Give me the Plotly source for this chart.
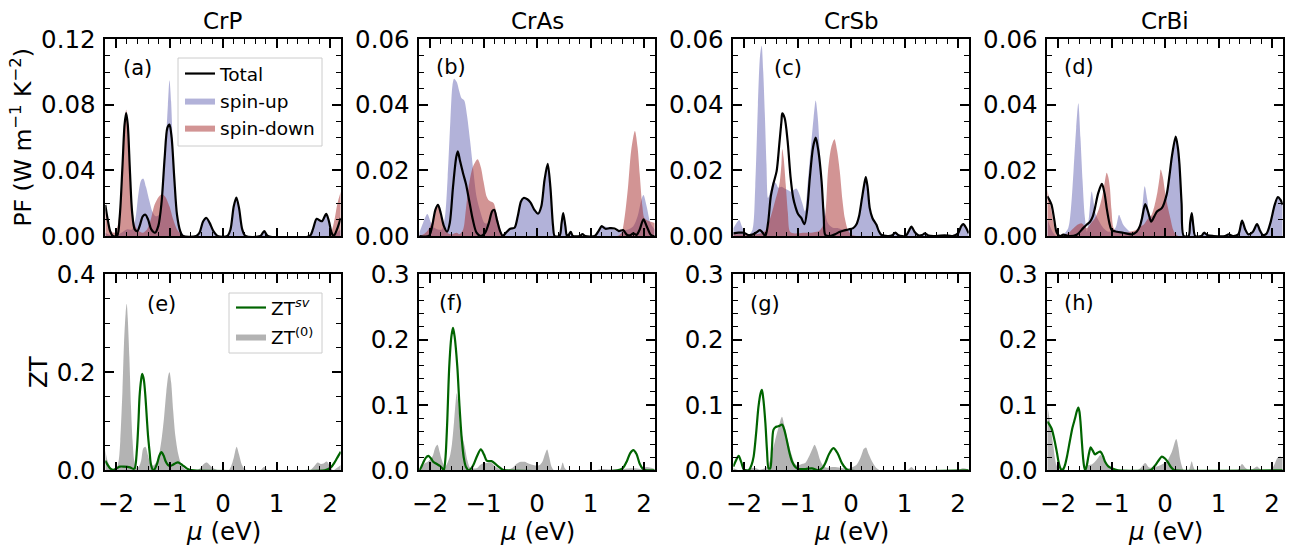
import plotly.graph_objects as go

W, H = 1305, 546

# ---------------- data: (mu [eV], value) ----------------
# Top row: power factor PF (W m^-1 K^-2)
crp_total = [(-2.2, 0.019), (-2.16, 0.011), (-2.11, 0.003), (-2.06, 0.0), (-1.98, 0.0), (-1.93, 0.012),
             (-1.88, 0.042), (-1.84, 0.068), (-1.81, 0.075), (-1.78, 0.068), (-1.74, 0.04), (-1.70, 0.015),
             (-1.65, 0.004), (-1.60, 0.003), (-1.55, 0.007), (-1.50, 0.012), (-1.45, 0.013), (-1.40, 0.010),
             (-1.34, 0.004), (-1.27, 0.002), (-1.21, 0.006), (-1.15, 0.02), (-1.09, 0.048), (-1.04, 0.066),
             (-1.00, 0.068), (-0.96, 0.06), (-0.91, 0.035), (-0.86, 0.013), (-0.80, 0.003), (-0.75, 0.0),
             (-0.50, 0.0), (-0.44, 0.002), (-0.37, 0.009), (-0.31, 0.011), (-0.25, 0.008), (-0.18, 0.003),
             (-0.10, 0.0), (0.08, 0.0), (0.14, 0.004), (0.20, 0.018), (0.25, 0.0235), (0.30, 0.017),
             (0.36, 0.004), (0.42, 0.0), (0.70, 0.0), (0.77, 0.003), (0.84, 0.0), (1.62, 0.0), (1.68, 0.004),
             (1.75, 0.0105), (1.81, 0.0095), (1.85, 0.009), (1.93, 0.0135), (1.98, 0.009), (2.03, 0.002),
             (2.07, 0.0), (2.13, 0.004), (2.2, 0.011)]
crp_up = [(-2.2, 0.002), (-2.05, 0.0), (-1.9, 0.002), (-1.8, 0.004), (-1.7, 0.004), (-1.64, 0.01),
          (-1.58, 0.026), (-1.53, 0.034), (-1.49, 0.035), (-1.44, 0.03), (-1.38, 0.022), (-1.32, 0.015),
          (-1.26, 0.012), (-1.2, 0.013), (-1.14, 0.025), (-1.08, 0.05), (-1.03, 0.08), (-1.0, 0.095),
          (-0.97, 0.082), (-0.93, 0.05), (-0.88, 0.022), (-0.83, 0.008), (-0.77, 0.002), (-0.7, 0.0),
          (-0.50, 0.0), (-0.44, 0.002), (-0.37, 0.009), (-0.31, 0.011), (-0.25, 0.008), (-0.18, 0.003),
          (-0.10, 0.0), (0.08, 0.0), (0.14, 0.004), (0.20, 0.018), (0.25, 0.0235), (0.30, 0.017),
          (0.36, 0.004), (0.42, 0.0), (0.70, 0.0), (0.77, 0.003), (0.84, 0.0), (1.62, 0.0), (1.68, 0.004),
          (1.75, 0.0105), (1.81, 0.0095), (1.85, 0.009), (1.93, 0.0135), (1.98, 0.009), (2.03, 0.002),
          (2.07, 0.0), (2.13, 0.002), (2.2, 0.004)]
crp_down = [(-2.2, 0.016), (-2.15, 0.008), (-2.1, 0.003), (-2.03, 0.002), (-1.97, 0.006), (-1.92, 0.02),
            (-1.87, 0.05), (-1.83, 0.072), (-1.81, 0.077), (-1.78, 0.07), (-1.74, 0.045), (-1.70, 0.02),
            (-1.65, 0.007), (-1.58, 0.003), (-1.5, 0.002), (-1.42, 0.004), (-1.35, 0.01), (-1.28, 0.019),
            (-1.2, 0.024), (-1.14, 0.0255), (-1.08, 0.024), (-1.0, 0.018), (-0.93, 0.01), (-0.86, 0.004),
            (-0.78, 0.001), (-0.7, 0.0), (1.98, 0.0), (2.04, 0.004), (2.09, 0.011), (2.14, 0.02), (2.2, 0.027)]

cras_total = [(-2.2, 0.0), (-2.02, 0.0), (-1.96, 0.003), (-1.9, 0.008), (-1.85, 0.0095), (-1.80, 0.007),
              (-1.74, 0.003), (-1.68, 0.0013), (-1.63, 0.004), (-1.57, 0.015), (-1.51, 0.024), (-1.48, 0.0258),
              (-1.44, 0.023), (-1.38, 0.019), (-1.33, 0.016), (-1.27, 0.011), (-1.2, 0.005), (-1.13, 0.001),
              (-1.05, 0.0), (-0.97, 0.001), (-0.9, 0.004), (-0.84, 0.0075), (-0.8, 0.008), (-0.75, 0.005),
              (-0.69, 0.0015), (-0.64, 0.0), (-0.58, 0.001), (-0.5, 0.0022), (-0.42, 0.0025), (-0.36, 0.006),
              (-0.3, 0.0105), (-0.25, 0.0116), (-0.18, 0.0112), (-0.12, 0.0102), (-0.05, 0.008), (0.02, 0.0068),
              (0.08, 0.009), (0.14, 0.017), (0.2, 0.022), (0.25, 0.015), (0.3, 0.003), (0.33, 0.0), (0.42, 0.0),
              (0.46, 0.004), (0.49, 0.007), (0.53, 0.003), (0.56, 0.0), (0.6, 0.0005), (0.63, 0.0013),
              (0.67, 0.0), (0.8, 0.0), (0.85, 0.0006), (0.9, 0.0), (1.08, 0.0), (1.15, 0.0015), (1.21, 0.003),
              (1.28, 0.0022), (1.36, 0.0024), (1.45, 0.0023), (1.53, 0.0015), (1.61, 0.0018), (1.68, 0.0004),
              (1.74, 0.0002), (1.8, 0.0008), (1.86, 0.0003), (1.92, 0.002), (1.99, 0.0051), (2.05, 0.003),
              (2.12, 0.0005), (2.17, 0.0), (2.2, 0.0)]
cras_up = [(-2.2, 0.001), (-2.13, 0.004), (-2.05, 0.0067), (-1.98, 0.004), (-1.92, 0.0025), (-1.85, 0.002),
           (-1.78, 0.002), (-1.72, 0.006), (-1.67, 0.018), (-1.62, 0.035), (-1.58, 0.046), (-1.55, 0.048),
           (-1.5, 0.047), (-1.45, 0.044), (-1.41, 0.042), (-1.36, 0.0413), (-1.31, 0.037), (-1.25, 0.029),
           (-1.19, 0.02), (-1.13, 0.012), (-1.06, 0.0075), (-0.98, 0.004), (-0.9, 0.004), (-0.84, 0.0075),
           (-0.8, 0.008), (-0.75, 0.005), (-0.69, 0.0015), (-0.64, 0.0005), (-0.58, 0.001), (-0.5, 0.0022),
           (-0.42, 0.0025), (-0.36, 0.006), (-0.3, 0.0105), (-0.25, 0.0116), (-0.18, 0.0112), (-0.12, 0.0102),
           (-0.05, 0.008), (0.02, 0.0068), (0.08, 0.009), (0.14, 0.017), (0.2, 0.022), (0.25, 0.015),
           (0.3, 0.003), (0.33, 0.0), (0.42, 0.0), (0.46, 0.004), (0.49, 0.007), (0.53, 0.003), (0.56, 0.0),
           (0.63, 0.0013), (0.67, 0.0), (1.08, 0.0), (1.15, 0.0015), (1.21, 0.003), (1.36, 0.0024),
           (1.53, 0.0015), (1.61, 0.0018), (1.7, 0.002), (1.8, 0.003), (1.88, 0.006), (1.95, 0.011),
           (1.99, 0.0125), (2.05, 0.009), (2.12, 0.004), (2.2, 0.002)]
cras_down = [(-2.2, 0.0), (-2.12, 0.0005), (-2.05, 0.0015), (-1.97, 0.004), (-1.9, 0.008), (-1.85, 0.009),
             (-1.8, 0.007), (-1.74, 0.003), (-1.68, 0.001), (-1.6, 0.0005), (-1.5, 0.001), (-1.45, 0.0005),
             (-1.38, 0.002), (-1.33, 0.008), (-1.28, 0.0147), (-1.2, 0.021), (-1.11, 0.0234), (-1.05, 0.021),
             (-1.0, 0.0167), (-0.94, 0.012), (-0.895, 0.0108), (-0.81, 0.01), (-0.76, 0.007), (-0.72, 0.0044),
             (-0.66, 0.001), (-0.6, 0.0), (1.5, 0.0), (1.58, 0.001), (1.64, 0.006), (1.7, 0.0147), (1.76, 0.026),
             (1.83, 0.032), (1.88, 0.027), (1.92, 0.0188), (1.97, 0.009), (2.01, 0.0054), (2.11, 0.0044),
             (2.2, 0.004)]

crsb_total = [(-2.2, 0.0008), (-2.1, 0.001), (-2.0, 0.001), (-1.92, 0.0003), (-1.83, 0.0005), (-1.76, 0.0012),
              (-1.70, 0.0018), (-1.65, 0.001), (-1.6, 0.0), (-1.55, 0.004), (-1.5, 0.012), (-1.45, 0.016),
              (-1.39, 0.0198), (-1.34, 0.028), (-1.3, 0.035), (-1.285, 0.0374), (-1.24, 0.036), (-1.185, 0.029),
              (-1.13, 0.018), (-1.08, 0.0116), (-1.04, 0.009), (-0.99, 0.0067), (-0.93, 0.0055), (-0.87, 0.0036),
              (-0.82, 0.008), (-0.77, 0.0177), (-0.71, 0.027), (-0.66, 0.030), (-0.61, 0.026), (-0.55, 0.0167),
              (-0.51, 0.006), (-0.48, 0.0003), (-0.4, 0.0), (-0.3, 0.0005), (-0.22, 0.0012), (-0.146, 0.0016),
              (-0.05, 0.002), (0.04, 0.0024), (0.1, 0.0035), (0.15, 0.006), (0.2, 0.011), (0.25, 0.016),
              (0.277, 0.018), (0.31, 0.015), (0.35, 0.0085), (0.4, 0.0055), (0.476, 0.0034), (0.52, 0.0015),
              (0.57, 0.0003), (0.7, 0.0), (0.77, 0.0002), (0.83, 0.001), (0.89, 0.0002), (1.02, 0.0),
              (1.08, 0.0015), (1.13, 0.0029), (1.19, 0.0012), (1.26, 0.0002), (1.33, 0.0003), (1.38, 0.0008),
              (1.45, 0.0001), (1.6, 0.0), (1.75, 0.0002), (1.9, 0.0), (2.0, 0.0008), (2.06, 0.003), (2.1, 0.0036),
              (2.15, 0.0025), (2.2, 0.0008)]
crsb_up = [(-2.2, 0.0024), (-2.14, 0.004), (-2.09, 0.0049), (-2.04, 0.003), (-1.98, 0.0008), (-1.9, 0.0005),
           (-1.84, 0.002), (-1.79, 0.015), (-1.74, 0.04), (-1.7, 0.055), (-1.67, 0.058), (-1.64, 0.05),
           (-1.61, 0.037), (-1.58, 0.022), (-1.55, 0.0116), (-1.5, 0.014), (-1.45, 0.0167), (-1.4, 0.016),
           (-1.36, 0.0147), (-1.3, 0.015), (-1.24, 0.0145), (-1.18, 0.014), (-1.12, 0.0135), (-1.06, 0.0142),
           (-1.02, 0.0145), (-0.97, 0.013), (-0.91, 0.01), (-0.86, 0.0075), (-0.81, 0.016), (-0.75, 0.027),
           (-0.7, 0.036), (-0.66, 0.0413), (-0.62, 0.036), (-0.58, 0.025), (-0.54, 0.015), (-0.5, 0.0085),
           (-0.43, 0.0039), (-0.34, 0.0025), (-0.24, 0.0024), (-0.146, 0.002), (-0.05, 0.002), (0.04, 0.0024),
           (0.1, 0.0035), (0.15, 0.006), (0.2, 0.011), (0.25, 0.016), (0.277, 0.018), (0.31, 0.015),
           (0.35, 0.0085), (0.4, 0.0055), (0.476, 0.0034), (0.52, 0.0015), (0.57, 0.0003), (0.7, 0.0),
           (0.77, 0.0002), (0.83, 0.001), (0.89, 0.0002), (1.02, 0.0), (1.08, 0.0015), (1.13, 0.0029),
           (1.19, 0.0012), (1.26, 0.0002), (1.33, 0.0003), (1.38, 0.0008), (1.45, 0.0001), (1.6, 0.0),
           (2.0, 0.0008), (2.06, 0.003), (2.1, 0.0036), (2.15, 0.0025), (2.2, 0.0008)]
crsb_down = [(-2.2, 0.0005), (-2.0, 0.0005), (-1.8, 0.0005), (-1.65, 0.001), (-1.58, 0.002), (-1.55, 0.0034),
             (-1.48, 0.007), (-1.42, 0.0106), (-1.36, 0.014), (-1.33, 0.0167), (-1.3, 0.022), (-1.285, 0.0265),
             (-1.26, 0.024), (-1.22, 0.0157), (-1.18, 0.007), (-1.14, 0.0013), (-1.05, 0.0008), (-0.9, 0.001),
             (-0.75, 0.001), (-0.6, 0.0015), (-0.53, 0.003), (-0.49, 0.0054), (-0.46, 0.011), (-0.43, 0.0198),
             (-0.37, 0.027), (-0.31, 0.0295), (-0.26, 0.026), (-0.21, 0.0198), (-0.16, 0.011), (-0.115, 0.0054),
             (-0.05, 0.0015), (0.01, 0.0004), (0.1, 0.0), (2.2, 0.0)]

crbi_total = [(-2.2, 0.0121), (-2.16, 0.011), (-2.12, 0.0095), (-2.07, 0.005), (-2.03, 0.0013), (-1.97, 0.0),
              (-1.9, 0.0004), (-1.8, 0.0), (-1.65, 0.0004), (-1.53, 0.0024), (-1.46, 0.0035), (-1.40, 0.0044),
              (-1.35, 0.006), (-1.31, 0.0085), (-1.25, 0.013), (-1.18, 0.0159), (-1.13, 0.013), (-1.09, 0.0085),
              (-1.04, 0.004), (-0.996, 0.0018), (-0.9, 0.0013), (-0.78, 0.001), (-0.62, 0.0005), (-0.53, 0.0013),
              (-0.47, 0.003), (-0.43, 0.0054), (-0.37, 0.0097), (-0.31, 0.007), (-0.26, 0.0044), (-0.2, 0.006),
              (-0.15, 0.0075), (-0.06, 0.0085), (0.03, 0.0126), (0.08, 0.018), (0.13, 0.0244), (0.2, 0.0303),
              (0.24, 0.027), (0.27, 0.0219), (0.31, 0.01), (0.35, 0.0), (0.44, 0.0), (0.47, 0.004), (0.5, 0.007),
              (0.53, 0.003), (0.565, 0.0), (0.68, 0.0), (0.73, 0.001), (0.8, 0.0002), (0.91, 0.0), (1.12, 0.0),
              (1.19, 0.0005), (1.27, 0.0), (1.37, 0.0005), (1.44, 0.0047), (1.5, 0.002), (1.56, 0.0005),
              (1.64, 0.0012), (1.72, 0.0036), (1.78, 0.0015), (1.83, 0.0003), (1.9, 0.0008), (1.97, 0.004),
              (2.05, 0.0095), (2.11, 0.0119), (2.16, 0.011), (2.2, 0.0095)]
crbi_up = [(-2.2, 0.0054), (-2.15, 0.003), (-2.09, 0.001), (-2.03, 0.0), (-1.9, 0.0005), (-1.81, 0.0024),
           (-1.76, 0.008), (-1.71, 0.0198), (-1.66, 0.033), (-1.62, 0.0405), (-1.58, 0.03), (-1.54, 0.0167),
           (-1.5, 0.006), (-1.46, 0.0013), (-1.42, 0.006), (-1.37, 0.0136), (-1.34, 0.011), (-1.31, 0.0075),
           (-1.25, 0.005), (-1.15, 0.0024), (-1.05, 0.0013), (-0.93, 0.0024), (-0.86, 0.0065), (-0.82, 0.005),
           (-0.78, 0.0034), (-0.65, 0.0013), (-0.53, 0.0013), (-0.45, 0.005), (-0.38, 0.0152), (-0.33, 0.011),
           (-0.28, 0.006), (-0.2, 0.006), (-0.15, 0.0075), (-0.06, 0.0085), (0.03, 0.0136), (0.08, 0.018),
           (0.13, 0.0244), (0.2, 0.0303), (0.24, 0.027), (0.27, 0.0219), (0.31, 0.01), (0.35, 0.0), (0.44, 0.0),
           (0.47, 0.004), (0.5, 0.007), (0.53, 0.003), (0.565, 0.0), (0.68, 0.0), (0.73, 0.001), (0.8, 0.0002),
           (0.91, 0.0), (1.12, 0.0), (1.19, 0.0005), (1.27, 0.0), (1.37, 0.0005), (1.44, 0.0047), (1.5, 0.002),
           (1.56, 0.0005), (1.64, 0.0012), (1.72, 0.0036), (1.78, 0.0015), (1.83, 0.0003), (1.9, 0.0008),
           (1.97, 0.004), (2.05, 0.0095), (2.11, 0.0119), (2.16, 0.011), (2.2, 0.0095)]
crbi_down = [(-2.2, 0.0142), (-2.16, 0.011), (-2.12, 0.0075), (-2.07, 0.003), (-2.03, 0.0008), (-1.9, 0.0003),
             (-1.8, 0.001), (-1.71, 0.0024), (-1.63, 0.0035), (-1.56, 0.0039), (-1.5, 0.003), (-1.46, 0.0024),
             (-1.38, 0.004), (-1.31, 0.0054), (-1.24, 0.008), (-1.18, 0.0116), (-1.13, 0.016), (-1.09, 0.0193),
             (-1.06, 0.018), (-1.03, 0.0147), (-1.0, 0.008), (-0.96, 0.0024), (-0.88, 0.001), (-0.78, 0.0008),
             (-0.6, 0.0015), (-0.53, 0.002), (-0.45, 0.003), (-0.4, 0.0034), (-0.33, 0.005), (-0.25, 0.0065),
             (-0.2, 0.009), (-0.14, 0.0136), (-0.1, 0.018), (-0.08, 0.0203), (-0.04, 0.018), (0.0, 0.0136),
             (0.05, 0.009), (0.1, 0.0054), (0.15, 0.002), (0.19, 0.0008), (0.25, 0.0), (2.2, 0.0)]

# Bottom row: figure of merit ZT
crp_zt_sv = [(-2.2, 0.0197), (-2.15, 0.01), (-2.11, 0.004), (-2.05, 0.001), (-2.0, 0.003), (-1.93, 0.0075),
             (-1.85, 0.0075), (-1.74, 0.006), (-1.68, 0.003), (-1.65, 0.004), (-1.61, 0.041), (-1.58, 0.1),
             (-1.56, 0.15), (-1.53, 0.185), (-1.51, 0.197), (-1.48, 0.185), (-1.45, 0.15), (-1.42, 0.1),
             (-1.40, 0.069), (-1.37, 0.035), (-1.35, 0.014), (-1.31, 0.001), (-1.28, 0.002), (-1.23, 0.014),
             (-1.19, 0.03), (-1.15, 0.037), (-1.11, 0.03), (-1.07, 0.018), (-1.03, 0.011), (-0.99, 0.0088),
             (-0.94, 0.011), (-0.88, 0.015), (-0.84, 0.016), (-0.79, 0.013), (-0.74, 0.009), (-0.68, 0.004),
             (-0.62, 0.001), (-0.55, 0.0), (1.9, 0.0), (1.96, 0.002), (2.03, 0.0075), (2.08, 0.015),
             (2.13, 0.0245), (2.17, 0.032), (2.2, 0.038)]
crp_zt0 = [(-2.2, 0.041), (-2.16, 0.02), (-2.11, 0.0075), (-2.06, 0.001), (-2.0, 0.001), (-1.95, 0.02),
           (-1.92, 0.06), (-1.88, 0.16), (-1.85, 0.26), (-1.82, 0.32), (-1.80, 0.34), (-1.78, 0.31),
           (-1.75, 0.23), (-1.72, 0.13), (-1.69, 0.06), (-1.66, 0.02), (-1.62, 0.005), (-1.57, 0.008),
           (-1.53, 0.02), (-1.49, 0.045), (-1.45, 0.048), (-1.4, 0.03), (-1.35, 0.012), (-1.3, 0.01),
           (-1.24, 0.018), (-1.19, 0.035), (-1.14, 0.07), (-1.1, 0.11), (-1.06, 0.16), (-1.02, 0.195),
           (-1.0, 0.2), (-0.97, 0.18), (-0.93, 0.12), (-0.89, 0.07), (-0.84, 0.035), (-0.79, 0.015),
           (-0.74, 0.005), (-0.66, 0.0), (-0.48, 0.0), (-0.41, 0.006), (-0.35, 0.014), (-0.3, 0.016),
           (-0.24, 0.01), (-0.18, 0.004), (-0.1, 0.0), (0.1, 0.0), (0.15, 0.008), (0.2, 0.025), (0.255, 0.048),
           (0.3, 0.032), (0.35, 0.012), (0.41, 0.002), (0.46, 0.0), (0.7, 0.0), (0.77, 0.0075), (0.84, 0.0),
           (1.62, 0.0), (1.7, 0.008), (1.77, 0.016), (1.83, 0.013), (1.88, 0.014), (1.94, 0.018), (2.0, 0.008),
           (2.06, 0.0), (2.12, 0.004), (2.2, 0.011)]

cras_zt_sv = [(-2.2, 0.0), (-2.17, 0.004), (-2.13, 0.011), (-2.08, 0.019), (-2.03, 0.022), (-1.98, 0.018),
              (-1.94, 0.013), (-1.88, 0.01), (-1.81, 0.0066), (-1.76, 0.002), (-1.74, 0.0), (-1.71, 0.02),
              (-1.68, 0.07), (-1.64, 0.159), (-1.60, 0.205), (-1.57, 0.218), (-1.54, 0.205), (-1.49, 0.159),
              (-1.45, 0.1), (-1.41, 0.0515), (-1.37, 0.02), (-1.33, 0.0056), (-1.27, 0.0), (-1.23, 0.003),
              (-1.19, 0.008), (-1.12, 0.022), (-1.05, 0.032), (-0.99, 0.024), (-0.94, 0.0148), (-0.89, 0.014),
              (-0.85, 0.014), (-0.78, 0.01), (-0.72, 0.0056), (-0.64, 0.001), (-0.57, 0.0), (1.5, 0.0),
              (1.6, 0.003), (1.68, 0.014), (1.74, 0.026), (1.8, 0.031), (1.86, 0.025), (1.92, 0.01),
              (1.98, 0.002), (2.05, 0.0), (2.2, 0.0)]
cras_zt0 = [(-2.2, 0.002), (-2.14, 0.007), (-2.09, 0.011), (-2.03, 0.014), (-1.95, 0.022), (-1.9, 0.035),
            (-1.86, 0.039), (-1.82, 0.028), (-1.78, 0.016), (-1.72, 0.005), (-1.67, 0.012), (-1.63, 0.021),
            (-1.59, 0.04), (-1.55, 0.075), (-1.52, 0.105), (-1.50, 0.118), (-1.47, 0.1), (-1.43, 0.062),
            (-1.39, 0.05), (-1.35, 0.036), (-1.3, 0.015), (-1.25, 0.004), (-1.13, 0.003), (-1.05, 0.009),
            (-0.95, 0.011), (-0.85, 0.011), (-0.78, 0.006), (-0.7, 0.002), (-0.6, 0.0), (-0.5, 0.002),
            (-0.43, 0.006), (-0.38, 0.01), (-0.3, 0.013), (-0.23, 0.013), (-0.15, 0.01), (-0.07, 0.008),
            (0.0, 0.007), (0.05, 0.008), (0.1, 0.013), (0.15, 0.025), (0.19, 0.032), (0.23, 0.02),
            (0.27, 0.006), (0.32, 0.0), (0.42, 0.0), (0.45, 0.004), (0.48, 0.012), (0.52, 0.003), (0.56, 0.0),
            (1.1, 0.0), (1.2, 0.002), (1.4, 0.001), (1.6, 0.002), (1.8, 0.003), (1.95, 0.002), (2.05, 0.005),
            (2.2, 0.002)]

crsb_zt_sv = [(-2.2, 0.0056), (-2.15, 0.015), (-2.1, 0.022), (-2.05, 0.012), (-2.0, 0.001), (-1.91, 0.0),
              (-1.86, 0.008), (-1.82, 0.021), (-1.77, 0.06), (-1.73, 0.097), (-1.69, 0.118), (-1.665, 0.123),
              (-1.64, 0.11), (-1.6, 0.072), (-1.57, 0.03), (-1.54, 0.003), (-1.51, 0.003), (-1.48, 0.03),
              (-1.45, 0.062), (-1.41, 0.066), (-1.38, 0.067), (-1.34, 0.068), (-1.29, 0.07), (-1.25, 0.063),
              (-1.2, 0.046), (-1.15, 0.027), (-1.1, 0.013), (-1.04, 0.005), (-0.98, 0.002), (-0.85, 0.002),
              (-0.73, 0.003), (-0.61, 0.0), (-0.53, 0.004), (-0.48, 0.011), (-0.41, 0.025), (-0.33, 0.034),
              (-0.25, 0.026), (-0.17, 0.011), (-0.1, 0.003), (-0.05, 0.0), (2.2, 0.0)]
crsb_zt0 = [(-2.2, 0.003), (-2.1, 0.0), (-2.0, 0.0), (-1.9, 0.003), (-1.8, 0.004), (-1.7, 0.001), (-1.57, 0.0056),
            (-1.52, 0.014), (-1.48, 0.026), (-1.42, 0.045), (-1.35, 0.067), (-1.29, 0.082), (-1.25, 0.07),
            (-1.2, 0.0515), (-1.15, 0.035), (-1.1, 0.021), (-1.05, 0.01), (-1.01, 0.008), (-0.94, 0.009),
            (-0.86, 0.011), (-0.78, 0.022), (-0.72, 0.033), (-0.68, 0.039), (-0.63, 0.03), (-0.58, 0.016),
            (-0.52, 0.007), (-0.45, 0.004), (-0.33, 0.005), (-0.2, 0.004), (-0.11, 0.003), (0.0, 0.004),
            (0.1, 0.008), (0.18, 0.02), (0.24, 0.033), (0.28, 0.035), (0.33, 0.025), (0.41, 0.011),
            (0.47, 0.004), (0.55, 0.0), (1.05, 0.0), (1.13, 0.005), (1.2, 0.0), (2.0, 0.0), (2.09, 0.003),
            (2.2, 0.001)]

crbi_zt_sv = [(-2.2, 0.0745), (-2.16, 0.07), (-2.12, 0.064), (-2.09, 0.055), (-2.06, 0.044), (-2.02, 0.027),
              (-1.99, 0.013), (-1.96, 0.004), (-1.93, 0.0), (-1.9, 0.002), (-1.87, 0.008), (-1.83, 0.022),
              (-1.78, 0.044), (-1.73, 0.065), (-1.68, 0.08), (-1.65, 0.09), (-1.62, 0.096), (-1.6, 0.09),
              (-1.58, 0.0745), (-1.555, 0.045), (-1.53, 0.018), (-1.51, 0.005), (-1.49, 0.0), (-1.46, 0.008),
              (-1.43, 0.022), (-1.39, 0.035), (-1.35, 0.03), (-1.31, 0.0245), (-1.26, 0.027), (-1.21, 0.0286),
              (-1.16, 0.022), (-1.12, 0.013), (-1.06, 0.006), (-1.0, 0.003), (-0.93, 0.001), (-0.87, 0.0),
              (-0.28, 0.0), (-0.23, 0.003), (-0.18, 0.008), (-0.12, 0.015), (-0.06, 0.021), (0.0, 0.018),
              (0.065, 0.011), (0.11, 0.005), (0.16, 0.001), (0.2, 0.0), (2.2, 0.0)]
crbi_zt0 = [(-2.2, 0.1), (-2.17, 0.085), (-2.15, 0.0745), (-2.12, 0.055), (-2.09, 0.039), (-2.06, 0.02),
            (-2.03, 0.008), (-1.98, 0.001), (-1.8, 0.0), (-1.5, 0.0), (-1.43, 0.008), (-1.37, 0.009),
            (-1.31, 0.013), (-1.26, 0.018), (-1.21, 0.0235), (-1.17, 0.02), (-1.12, 0.011), (-1.06, 0.004),
            (-1.0, 0.001), (-0.53, 0.0), (-0.45, 0.004), (-0.37, 0.011), (-0.31, 0.005), (-0.28, 0.004),
            (-0.18, 0.005), (-0.06, 0.009), (0.03, 0.013), (0.08, 0.02), (0.13, 0.0286), (0.21, 0.048),
            (0.25, 0.035), (0.28, 0.018), (0.32, 0.005), (0.35, 0.0), (0.44, 0.0), (0.47, 0.006), (0.5, 0.014),
            (0.53, 0.006), (0.57, 0.0), (1.35, 0.0), (1.44, 0.0097), (1.5, 0.004), (1.56, 0.001), (1.64, 0.002),
            (1.72, 0.006), (1.78, 0.002), (1.85, 0.0), (1.97, 0.0), (2.04, 0.008), (2.11, 0.02), (2.16, 0.021),
            (2.2, 0.019)]

compounds = ["CrP", "CrAs", "CrSb", "CrBi"]
top_labels = ["(a)", "(b)", "(c)", "(d)"]
bottom_labels = ["(e)", "(f)", "(g)", "(h)"]
pf_series = [(crp_total, crp_up, crp_down), (cras_total, cras_up, cras_down),
             (crsb_total, crsb_up, crsb_down), (crbi_total, crbi_up, crbi_down)]
zt_series = [(crp_zt_sv, crp_zt0), (cras_zt_sv, cras_zt0), (crsb_zt_sv, crsb_zt0), (crbi_zt_sv, crbi_zt0)]
pf_ranges = [(0.12, 0.04, 0.01), (0.06, 0.02, 0.005), (0.06, 0.02, 0.005), (0.06, 0.02, 0.005)]
zt_ranges = [(0.4, 0.2, 0.05), (0.3, 0.1, 0.02), (0.3, 0.1, 0.02), (0.3, 0.1, 0.02)]

# ---------------- layout geometry (pixels) ----------------
col_px = [(105.3, 340.7), (419.3, 654.7), (733.3, 968.7), (1047.3, 1282.7)]
top_px = (39.3, 236.0)
bot_px = (274.3, 470.3)

FONT = "DejaVu Sans"
UP_FILL = "rgba(0,0,128,0.30)"
DOWN_FILL = "rgba(165,42,42,0.50)"
ZT0_FILL = "rgba(128,128,128,0.60)"
GREEN = "#006400"
TICK_SIZE = 24.5
LEG_SIZE = 18.5
LINE_W = 2.2


def xs(p):
    return [a for a, b in p]


def ys(p):
    return [b for a, b in p]


def px_x(v):
    return v / W


def px_y(v):
    return 1 - v / H


fig = go.Figure()
layout = dict(template="none", width=W, height=H,
              margin=dict(l=0, r=0, t=0, b=0, pad=0, autoexpand=False), autosize=False,
              paper_bgcolor="white", plot_bgcolor="white",
              font=dict(family=FONT, color="black"))

tick_common = dict(ticks="inside", ticklen=8.5, tickwidth=1.5, tickcolor="black",
                   showline=True, linecolor="black", linewidth=1.5, mirror="allticks",
                   showgrid=False, zeroline=False, fixedrange=True, automargin=False,
                   tickfont=dict(family=FONT, size=TICK_SIZE, color="black"))

annotations = []
for row in range(2):
    for col in range(4):
        n = row * 4 + col + 1
        xname = "xaxis" if n == 1 else f"xaxis{n}"
        yname = "yaxis" if n == 1 else f"yaxis{n}"
        xref = "x" if n == 1 else f"x{n}"
        yref = "y" if n == 1 else f"y{n}"
        ypx = top_px if row == 0 else bot_px
        ymax, ydt, ymin_dt = (pf_ranges if row == 0 else zt_ranges)[col]
        layout[xname] = dict(domain=[px_x(col_px[col][0]), px_x(col_px[col][1])], anchor=yref,
                             range=[-2.2, 2.2], tick0=0, dtick=1, showticklabels=(row == 1),
                             ticklabelstandoff=11,
                             minor=dict(tick0=0, dtick=0.2, ticks="inside", ticklen=4.5, tickwidth=1,
                                        tickcolor="black"),
                             **tick_common)
        layout[yname] = dict(domain=[px_y(ypx[1]), px_y(ypx[0])], anchor=xref,
                             range=[0, ymax], tick0=0, dtick=ydt,
                             tickformat=".2f" if row == 0 else ".1f",
                             ticklabelstandoff=3,
                             minor=dict(tick0=0, dtick=ymin_dt, ticks="inside", ticklen=4.5, tickwidth=1,
                                        tickcolor="black"),
                             **tick_common)

        first = col == 0
        if row == 0:
            total, up, down = pf_series[col]
            fig.add_trace(go.Scatter(x=xs(up), y=ys(up), xaxis=xref, yaxis=yref, mode="lines",
                                     line=dict(width=0, shape="spline", smoothing=0.8), fill="tozeroy",
                                     fillcolor=UP_FILL, name="spin-up", showlegend=first,
                                     legendrank=2, legend="legend"))
            fig.add_trace(go.Scatter(x=xs(down), y=ys(down), xaxis=xref, yaxis=yref, mode="lines",
                                     line=dict(width=0, shape="spline", smoothing=0.8), fill="tozeroy",
                                     fillcolor=DOWN_FILL, name="spin-down", showlegend=first,
                                     legendrank=3, legend="legend"))
            fig.add_trace(go.Scatter(x=xs(total), y=ys(total), xaxis=xref, yaxis=yref, mode="lines",
                                     line=dict(width=LINE_W, color="black", shape="spline", smoothing=0.8),
                                     name="Total", showlegend=first, legendrank=1, legend="legend"))
        else:
            sv, zt0 = zt_series[col]
            fig.add_trace(go.Scatter(x=xs(zt0), y=ys(zt0), xaxis=xref, yaxis=yref, mode="lines",
                                     line=dict(width=0, shape="spline", smoothing=0.8), fill="tozeroy",
                                     fillcolor=ZT0_FILL, name="ZT<sup>(0)</sup>", showlegend=first,
                                     legend="legend3"))
            fig.add_trace(go.Scatter(x=xs(sv), y=ys(sv), xaxis=xref, yaxis=yref, mode="lines",
                                     line=dict(width=LINE_W, color=GREEN, shape="spline", smoothing=0.8),
                                     name="ZT<sup><i>sv</i></sup>", showlegend=first,
                                     legend="legend2"))

# panel letters
letter_pos = [(137, 68), (451, 67), (788, 68), (1079, 67), (161, 304), (451, 303), (765, 304), (1079, 303)]
for lab, (lx, ly) in zip(top_labels + bottom_labels, letter_pos):
    annotations.append(dict(text=lab, x=px_x(lx), y=px_y(ly), xref="paper", yref="paper",
                            xanchor="center", yanchor="middle", showarrow=False,
                            font=dict(family=FONT, size=21, color="black")))
# column titles and x titles
for col, name in enumerate(compounds):
    cx = (col_px[col][0] + col_px[col][1]) / 2
    annotations.append(dict(text=name, x=px_x(cx), y=px_y(21), xref="paper", yref="paper",
                            xanchor="center", yanchor="middle", showarrow=False,
                            font=dict(family=FONT, size=23, color="black")))
    annotations.append(dict(text="<i>μ</i> (eV)", x=px_x(cx), y=px_y(531), xref="paper", yref="paper",
                            xanchor="center", yanchor="middle", showarrow=False,
                            font=dict(family=FONT, size=TICK_SIZE, color="black")))
# y titles
annotations.append(dict(text="PF (W m<sup>−1</sup> K<sup>−2</sup>)", x=px_x(22), y=px_y(137.6),
                        xref="paper", yref="paper", xanchor="center", yanchor="middle", textangle=-90,
                        showarrow=False, font=dict(family=FONT, size=23.5, color="black")))
annotations.append(dict(text="ZT", x=px_x(38), y=px_y(372), xref="paper", yref="paper",
                        xanchor="center", yanchor="middle", textangle=-90,
                        showarrow=False, font=dict(family=FONT, size=TICK_SIZE, color="black")))
layout["annotations"] = annotations

# legend frames (matplotlib-style boxes) drawn behind the legend entries
frame_style = dict(type="rect", xref="paper", yref="paper", layer="below",
                   line=dict(color="#cccccc", width=1), fillcolor="rgba(255,255,255,0.8)")
layout["shapes"] = [dict(x0=px_x(178), x1=px_x(322), y0=px_y(146), y1=px_y(58), **frame_style),
                    dict(x0=px_x(229), x1=px_x(322), y0=px_y(353), y1=px_y(293), **frame_style)]

legend_common = dict(xanchor="left", yanchor="middle", bgcolor="rgba(0,0,0,0)",
                     borderwidth=0, traceorder="normal",
                     font=dict(family=FONT, size=LEG_SIZE, color="black"), itemwidth=30)
layout["legend"] = dict(x=px_x(180), y=px_y(101), **legend_common)
layout["legend2"] = dict(x=px_x(231), y=px_y(308), **legend_common)
layout["legend3"] = dict(x=px_x(231), y=px_y(337), **legend_common)
layout["showlegend"] = True

fig.update_layout(**layout)
fig.write_html("out.html")
